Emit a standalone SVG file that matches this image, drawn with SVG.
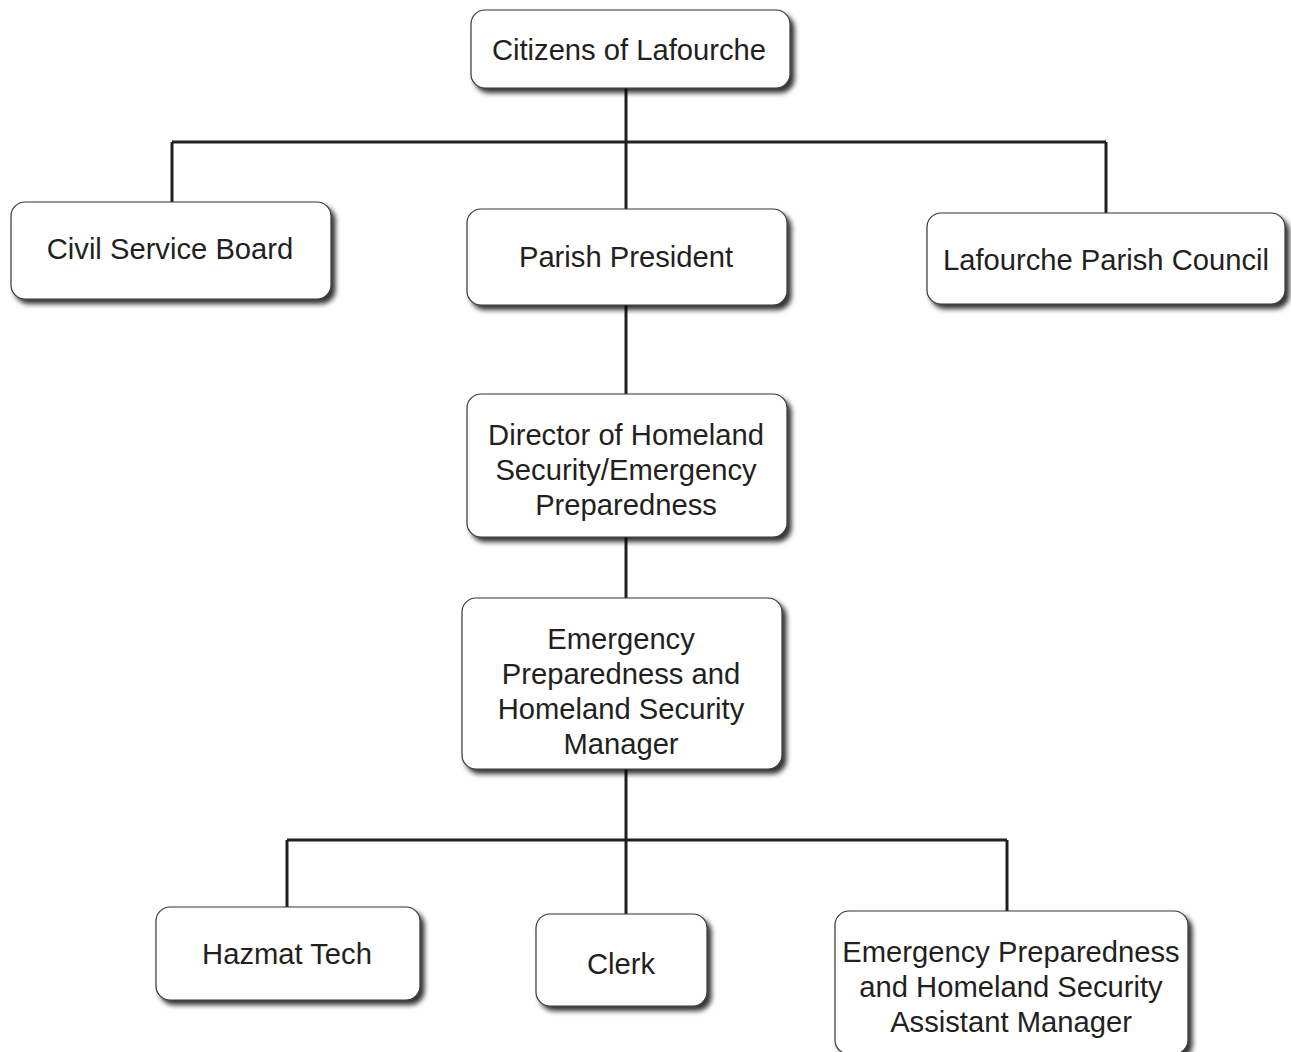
<svg xmlns="http://www.w3.org/2000/svg" width="1291" height="1052" viewBox="0 0 1291 1052">
<style>
.box{fill:#ffffff;stroke:#3a3637;stroke-width:1.2;filter:url(#sh)}
.lbl{font-family:"Liberation Sans",Arial,sans-serif;font-size:29.2px;fill:#231f20;text-anchor:middle}
.con{stroke:#231f20;stroke-width:3;fill:none}
</style>
<defs>
<filter id="sh" x="-10%" y="-10%" width="125%" height="130%">
<feDropShadow dx="4" dy="4.5" stdDeviation="2.5" flood-color="#000" flood-opacity="0.8"/>
</filter>
</defs>
<rect width="1291" height="1052" fill="#ffffff"/>
<g id="connectors" class="con">
<path d="M626 88 V142"/>
<path d="M172 142 H1106"/>
<path d="M172 142 V202"/>
<path d="M626 142 V209"/>
<path d="M1106 142 V213"/>
<path d="M626 305 V394"/>
<path d="M626 537 V598"/>
<path d="M626 769 V914"/>
<path d="M287 840 H1007"/>
<path d="M287 840 V907"/>
<path d="M1007 840 V911"/>
</g>
<g id="citizens">
<rect class="box" x="471" y="10" width="319" height="78" rx="14"/>
<text class="lbl" x="629" y="60">Citizens of Lafourche</text>
</g>
<g id="civil-service-board">
<rect class="box" x="11" y="202" width="320" height="97" rx="14"/>
<text class="lbl" x="170" y="259">Civil Service Board</text>
</g>
<g id="parish-president">
<rect class="box" x="467" y="209" width="320" height="96" rx="14"/>
<text class="lbl" x="626" y="267">Parish President</text>
</g>
<g id="parish-council">
<rect class="box" x="927" y="213" width="358" height="91" rx="14"/>
<text class="lbl" x="1106" y="270">Lafourche Parish Council</text>
</g>
<g id="director">
<rect class="box" x="467" y="394" width="320" height="143" rx="14"/>
<text class="lbl" x="626" y="445">Director of Homeland</text>
<text class="lbl" x="626" y="480">Security/Emergency</text>
<text class="lbl" x="626" y="515">Preparedness</text>
</g>
<g id="manager">
<rect class="box" x="462" y="598" width="320" height="171" rx="14"/>
<text class="lbl" x="621" y="649">Emergency</text>
<text class="lbl" x="621" y="684">Preparedness and</text>
<text class="lbl" x="621" y="719">Homeland Security</text>
<text class="lbl" x="621" y="754">Manager</text>
</g>
<g id="hazmat-tech">
<rect class="box" x="156" y="907" width="264" height="93" rx="14"/>
<text class="lbl" x="287" y="964">Hazmat Tech</text>
</g>
<g id="clerk">
<rect class="box" x="536" y="914" width="171" height="92" rx="14"/>
<text class="lbl" x="621" y="974">Clerk</text>
</g>
<g id="assistant-manager">
<rect class="box" x="835" y="911" width="353" height="143" rx="14"/>
<text class="lbl" x="1011" y="962">Emergency Preparedness</text>
<text class="lbl" x="1011" y="997">and Homeland Security</text>
<text class="lbl" x="1011" y="1032">Assistant Manager</text>
</g>
</svg>
